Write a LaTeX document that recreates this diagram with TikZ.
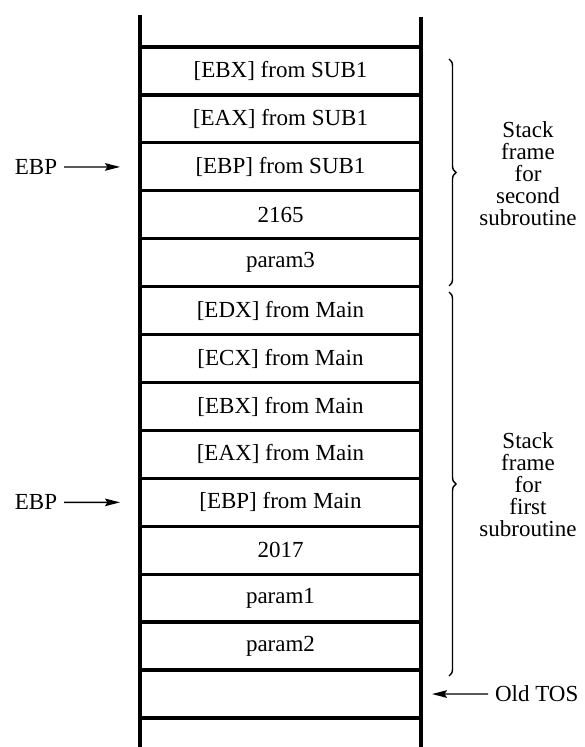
\documentclass[tikz,border=0pt]{standalone}
\usepackage{fontspec}
\setmainfont{Liberation Serif}
\usetikzlibrary{arrows.meta}
\usetikzlibrary{positioning}
\usetikzlibrary{decorations.pathreplacing}

\begin{document}
\begin{tikzpicture}[x=0.5pt,y=-0.5pt,>={Stealth[length=7.5pt,width=3.8pt,inset=1.2pt]},
                    node distance=23.96pt,font=\fontsize{11.5}{11}\selectfont,
                    cell/.style={rectangle,draw,line width=1.6pt,minimum width=140.5pt,
                                 minimum height=23.96pt,inner sep=0pt,outer sep=0pt},
                    pointer/.style={->,line width=0.65pt},
                    frame brace/.style={decorate,decoration={brace,amplitude=3.5pt},line width=0.7pt}]

  \useasboundingbox (0,0) rectangle (584,747);

  \node[cell] (c1) at (280.5,71) {[EBX] from SUB1};
  \node[cell] (c2) [below of=c1] {[EAX] from SUB1};
  \node[cell] (c3) [below of=c2] {[EBP] from SUB1};
  \node[cell] (c4) [below of=c3] {2165};
  \node[cell] (c5) [below of=c4] {param3};
  \node[cell] (c6) [below of=c5] {[EDX] from Main};
  \node[cell] (c7) [below of=c6] {[ECX] from Main};
  \node[cell] (c8) [below of=c7] {[EBX] from Main};
  \node[cell] (c9) [below of=c8] {[EAX] from Main};
  \node[cell] (c10) [below of=c9] {[EBP] from Main};
  \node[cell] (c11) [below of=c10] {2017};
  \node[cell] (c12) [below of=c11] {param1};
  \node[cell] (c13) [below of=c12] {param2};
  \node[cell] (c14) [below of=c13] {};

  % stack walls
  \draw[line width=1.6pt] (140,15) -- (140,747);
  \draw[line width=1.6pt] (421,17) -- (421,747);

  \node (ebp1) at (36,167) {EBP};
  \node (ebp2) at (36,502.4) {EBP};
  \node[anchor=west] (tos) at (488,694.1) {Old TOS};

  \draw[pointer,shorten >=10pt] (ebp1) -- (c3);
  \draw[pointer,shorten >=10pt] (ebp2) -- (c10);
  \draw[pointer,shorten >=5.5pt] (tos) -- (c14);

  % frames
  \draw[frame brace] (449,59) -- (449,286);
  \draw[frame brace] (449,292) -- (449,676);
  \node[align=center] (sf2) at (528,174) {Stack\\frame\\for\\second\\subroutine};
  \node[align=center] (sf1) at (528,485) {Stack\\frame\\for\\first\\subroutine};
\end{tikzpicture}
\end{document}
